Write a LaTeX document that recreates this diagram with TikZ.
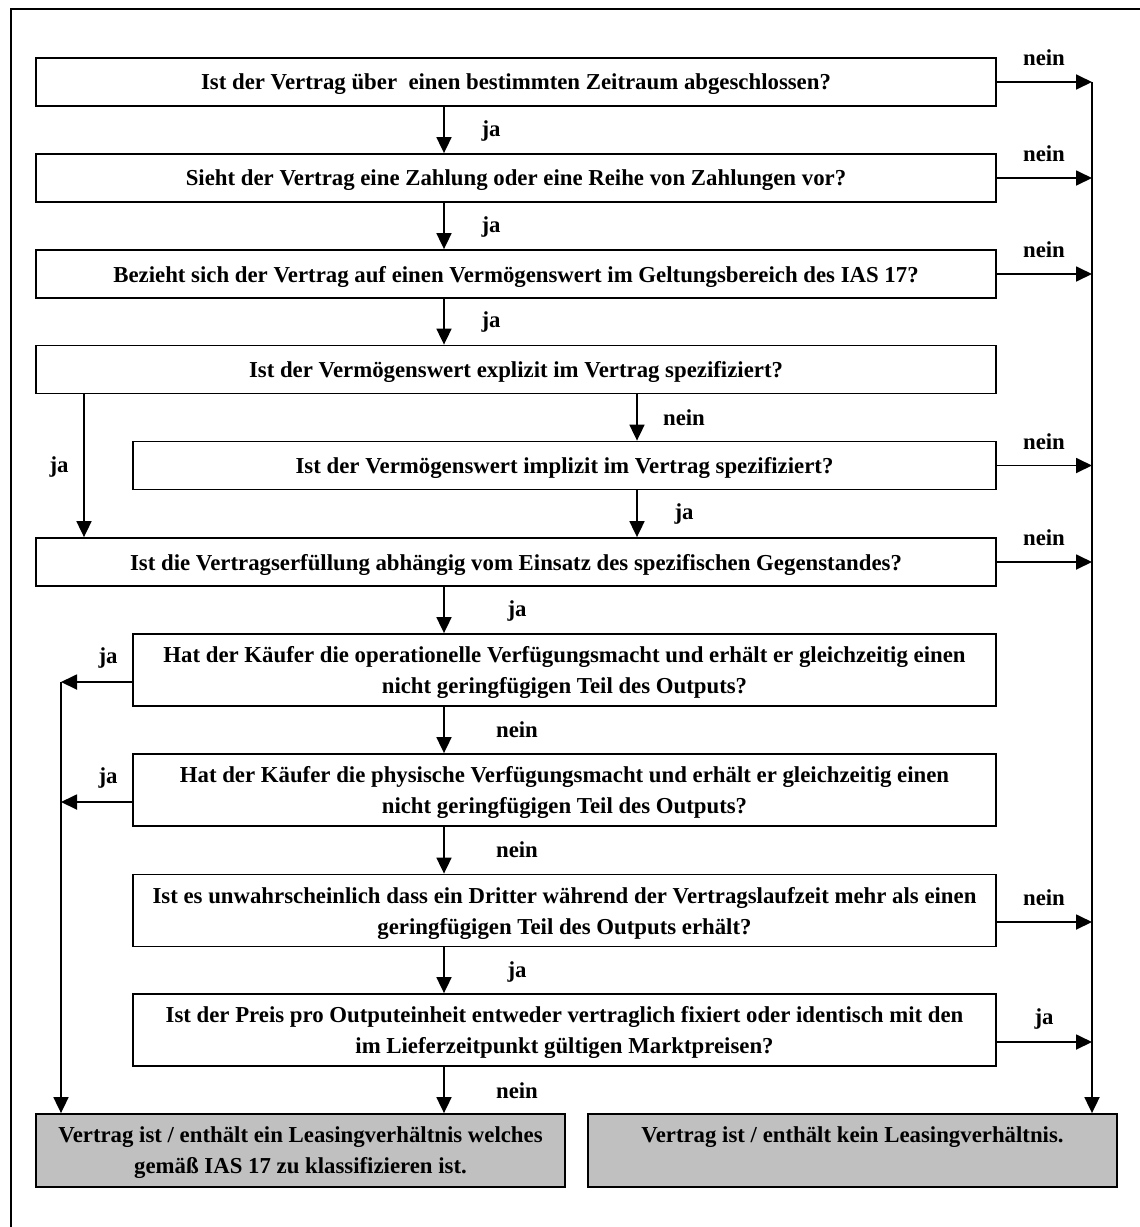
\documentclass[tikz,border=0pt]{standalone}
\usepackage{fontspec}
\setmainfont{Liberation Serif}
\usetikzlibrary{arrows.meta}
\definecolor{grau}{RGB}{192,192,192}
\tikzstyle{every node}=[font=\fontsize{11.4}{15.5}\selectfont\bfseries]
\tikzstyle{every path}=[line width=0.9pt]
\tikzstyle{frage}=[draw, rectangle, align=center, inner sep=0pt, text depth=0pt, minimum height=24pt]
\tikzstyle{breit}=[minimum width=480pt]
\tikzstyle{schmal}=[minimum width=431.5pt]
\tikzstyle{hoch}=[minimum height=36pt]
\tikzstyle{ergebnis}=[frage, fill=grau, minimum width=264.5pt, minimum height=36.5pt]
\tikzstyle{pfeil}=[-{Triangle[length=8pt,width=7.5pt]}]

\begin{document}
\begin{tikzpicture}[x=0.5pt,y=-0.5pt]
  \useasboundingbox (0,0) rectangle (1140,1227);
  % rahmen
  \draw[line width=1.1pt] (11,1227) -- (11,9) -- (1140,9);

  % fragen
  \node[frage,breit] (vertrag) at (516,82) {Ist der Vertrag über~ einen bestimmten Zeitraum abgeschlossen?};
  \node[frage,breit] (zahlung) at (516,178) {Sieht der Vertrag eine Zahlung oder eine Reihe von Zahlungen vor?};
  \node[frage,breit] (ias) at (516,274) {Bezieht sich der Vertrag auf einen Vermögenswert im Geltungsbereich des IAS 17?};
  \node[frage,breit] (explizit) at (516,369.5) {Ist der Vermögenswert explizit im Vertrag spezifiziert?};
  \node[frage,schmal] (implizit) at (564.5,465.5) {Ist der Vermögenswert implizit im Vertrag spezifiziert?};
  \node[frage,breit] (erfuellung) at (516,562) {Ist die Vertragserfüllung abhängig vom Einsatz des spezifischen Gegenstandes?};
  \node[frage,schmal,hoch] (operativ) at (564.5,670) {Hat der Käufer die operationelle Verfügungsmacht und erhält er gleichzeitig einen\\nicht geringfügigen Teil des Outputs?};
  \node[frage,schmal,hoch] (physisch) at (564.5,790) {Hat der Käufer die physische Verfügungsmacht und erhält er gleichzeitig einen\\nicht geringfügigen Teil des Outputs?};
  \node[frage,schmal,hoch] (dritter) at (564.5,910.5) {Ist es unwahrscheinlich dass ein Dritter während der Vertragslaufzeit mehr als einen\\geringfügigen Teil des Outputs erhält?};
  \node[frage,schmal,hoch] (preis) at (564.5,1030) {Ist der Preis pro Outputeinheit entweder vertraglich fixiert oder identisch mit den\\im Lieferzeitpunkt gültigen Marktpreisen?};

  % ergebnisse
  \node[ergebnis] (leasing) at (300.5,1150.5) {Vertrag ist / enthält ein Leasingverhältnis welches\\gemäß IAS 17 zu klassifizieren ist.};
  \node[ergebnis] (kein) at (852.5,1150.5) {Vertrag ist / enthält kein Leasingverhältnis.\\\strut};

  % hauptlinie
  \coordinate (m) at (444,0);
  \foreach \a/\b in {vertrag/zahlung, zahlung/ias, ias/explizit, erfuellung/operativ, operativ/physisch, physisch/dritter, dritter/preis, preis/leasing}
    \draw[pfeil] (\a.south -| m) -- (\b.north -| m);
  \coordinate (mi) at (637,0);
  \draw[pfeil] (explizit.south -| mi) -- (implizit.north -| mi);
  \draw[pfeil] (implizit.south -| mi) -- (erfuellung.north -| mi);
  \coordinate (jl) at (84,0);
  \draw[pfeil] (explizit.south -| jl) -- (erfuellung.north -| jl);

  % rechts
  \foreach \n/\y in {vertrag/82, zahlung/178, ias/274, implizit/465.5, erfuellung/562, dritter/922, preis/1042} {
    \coordinate (r-\n) at (1092,\y);
    \draw[pfeil] (\n.east |- r-\n) -- (r-\n);
  }
  \draw[pfeil] (r-vertrag) -- (r-vertrag |- kein.north);

  % links
  \foreach \n/\y in {operativ/682, physisch/802} {
    \coordinate (l-\n) at (61,\y);
    \draw[pfeil] (\n.west |- l-\n) -- (l-\n);
  }
  \draw[pfeil] (l-operativ) -- (l-operativ |- leasing.north);

  % beschriftungen
  \foreach \t/\x/\y [count=\i] in {ja/491/131, ja/491/227, ja/491/322, nein/684/418, ja/684/514, ja/59/467,
      ja/517/611, nein/517/730, nein/517/850, ja/517/972, nein/517/1091,
      nein/1044/58, nein/1044/154, nein/1044/250, nein/1044/442, nein/1044/538, nein/1044/898, ja/1044/1019,
      ja/108/658, ja/108/778}
    \node (lbl\i) at (\x,\y) {\t};
\end{tikzpicture}
\end{document}
